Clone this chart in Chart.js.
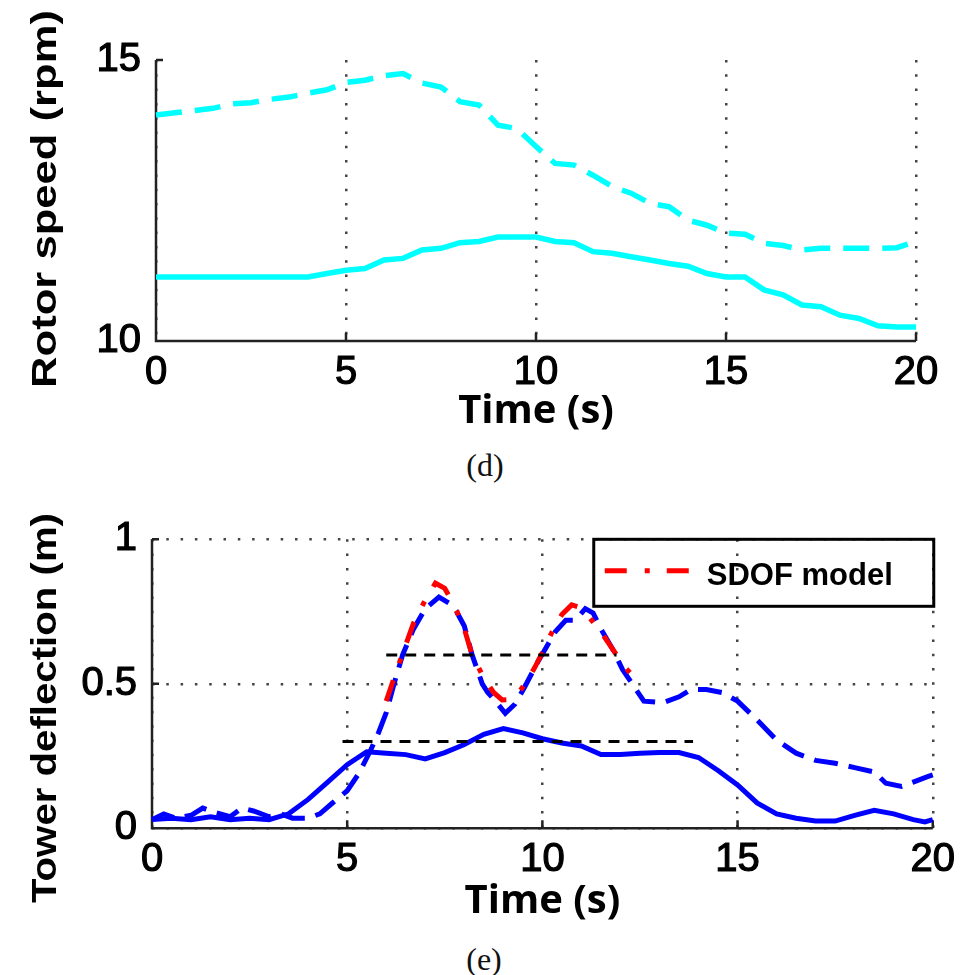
<!DOCTYPE html>
<html>
<head>
<meta charset="utf-8">
<script src="https://cdn.jsdelivr.net/npm/chart.js@4.4.0/dist/chart.umd.min.js"></script>
<style>
  html, body { margin: 0; padding: 0; background: #fff; }
  #page { position: relative; width: 963px; height: 975px; overflow: hidden; background: #fff; }
  .panel { position: absolute; left: 0; width: 963px; height: 440px; }
  .caption { position: absolute; width: 200px; text-align: center; line-height: 32px;
             font-family: "Liberation Serif", "DejaVu Serif", serif; font-size: 32px; color: #111; }
</style>
</head>
<body>
<div id="page">
  <div class="panel" style="top:0px"><canvas id="rotor" width="963" height="440"></canvas></div>
  <div class="caption" style="left:385px; top:449px">(d)</div>
  <div class="panel" style="top:490px"><canvas id="tower" width="963" height="440"></canvas></div>
  <div class="caption" style="left:384px; top:943px">(e)</div>
</div>
<script>
// ---- (d) rotor speed, rpm ----
const rotorTime = [0,0.5,1,1.5,2,2.5,3,3.5,4,4.5,5,5.5,6,6.5,7,7.5,8,8.5,9,9.5,10,
                   10.5,11,11.5,12,12.5,13,13.5,14,14.5,15,15.5,16,16.5,17,17.5,18,18.5,19,19.5,20];
const rotorUpper = [14.02,14.06,14.10,14.14,14.22,14.24,14.30,14.34,14.41,14.47,14.60,
                    14.64,14.72,14.76,14.59,14.52,14.26,14.20,13.84,13.78,13.46,
                    13.16,13.13,12.95,12.75,12.63,12.45,12.39,12.15,12.06,11.92,
                    11.90,11.74,11.70,11.62,11.65,11.65,11.65,11.65,11.66,11.77];
const rotorLower = [11.14,11.14,11.14,11.14,11.14,11.14,11.14,11.14,11.14,11.20,11.26,
                    11.29,11.44,11.47,11.62,11.65,11.75,11.77,11.85,11.85,11.85,
                    11.77,11.75,11.59,11.56,11.50,11.44,11.38,11.33,11.20,11.14,
                    11.14,10.91,10.82,10.64,10.61,10.46,10.40,10.27,10.25,10.25];
const rotorTicksX = [0, 5, 10, 15, 20];
const rotorTicksY = [10, 15];

// ---- (e) tower deflection, m ----
const towerTimeSolid = [0,0.5,1,1.5,2,2.5,3,3.5,4,4.5,5,5.5,6,6.5,7,7.5,8,8.5,9,9.5,10,
                        10.5,11,11.5,12,12.5,13,13.5,14,14.5,15,15.5,16,16.5,17,17.5,18,18.5,19,19.5,19.8,20];
const towerSolid = [0.03,0.035,0.03,0.04,0.03,0.035,0.03,0.05,0.10,0.16,0.22,0.265,0.26,0.255,
                    0.24,0.262,0.29,0.325,0.345,0.33,0.31,0.295,0.285,0.255,0.255,0.26,0.262,
                    0.262,0.245,0.20,0.15,0.088,0.05,0.035,0.025,0.025,0.045,0.062,0.05,0.03,0.022,0.03];
const towerTimeDashed = [0,0.3,0.6,1,1.3,1.6,2,2.3,2.6,3,3.3,3.6,4,4.3,4.6,5,5.3,5.6,5.8,6.0,6.2,
                         6.42,6.7,7.0,7.35,7.6,7.8,8.0,8.2,8.46,8.6,8.8,9.05,9.3,9.55,9.9,10.33,
                         10.6,10.85,11.1,11.3,11.5,11.8,12.05,12.3,12.6,13.1,13.5,13.8,14.2,14.6,
                         15,15.5,16,16.5,17,17.5,18,18.5,18.8,19.2,19.5,19.85,20];
const towerDashed = [0.03,0.05,0.035,0.045,0.07,0.055,0.04,0.07,0.06,0.04,0.05,0.035,0.035,0.05,
                     0.085,0.13,0.19,0.27,0.33,0.40,0.50,0.60,0.69,0.76,0.80,0.78,0.75,0.70,0.60,
                     0.50,0.47,0.44,0.398,0.43,0.49,0.58,0.68,0.72,0.72,0.76,0.745,0.69,0.62,0.55,
                     0.50,0.44,0.435,0.455,0.48,0.48,0.47,0.44,0.375,0.305,0.26,0.235,0.225,0.21,
                     0.195,0.156,0.145,0.16,0.178,0.185];
const sdofTime = [6.0,6.2,6.42,6.7,7.0,7.26,7.5,7.75,8.0,8.2,8.5,8.75,8.97,9.15,9.35,9.6,9.8,
                  9.99,10.25,10.5,10.75,10.95,11.2,11.5,11.7,11.9,12.1,12.3,12.5];
const sdofModel = [0.44,0.52,0.605,0.71,0.79,0.848,0.83,0.77,0.69,0.60,0.52,0.47,0.444,0.445,
                   0.46,0.51,0.555,0.605,0.68,0.74,0.773,0.765,0.73,0.68,0.64,0.60,0.56,0.53,0.505];
const refHighTime = [6.0, 11.9];   const refHigh = [0.6, 0.6];
const refLowTime  = [4.88, 13.86]; const refLow  = [0.3, 0.3];
const towerTicksX = [0, 5, 10, 15, 20];
const towerTicksY = [0, 0.5, 1];

function pairs(xs, ys) { return xs.map((x, i) => ({ x: x, y: ys[i] })); }

const TICK_FONT = { family: '"Liberation Sans", Arial, sans-serif', size: 40 };
const X_TITLE_FONT = { family: '"Open Sans", sans-serif', size: 40, weight: 'bold', lineHeight: 1 };
const GRID_DOTS = [2.5, 11.8];

// solid left/bottom axes with inward tick marks
const axesFrame = {
  id: 'axesFrame',
  beforeDatasetsDraw(chart) {
    const { ctx, chartArea: a, scales: { x, y } } = chart;
    ctx.save();
    ctx.strokeStyle = '#222';
    ctx.lineWidth = 2.5;
    ctx.beginPath();
    ctx.moveTo(a.left, a.top);
    ctx.lineTo(a.left, a.bottom);
    ctx.lineTo(a.right, a.bottom);
    x.ticks.forEach(t => {
      const px = x.getPixelForValue(t.value);
      ctx.moveTo(px, a.bottom); ctx.lineTo(px, a.bottom - 8);
    });
    y.ticks.forEach(t => {
      const py = y.getPixelForValue(t.value);
      ctx.moveTo(a.left, py); ctx.lineTo(a.left + 7, py);
    });
    ctx.stroke();
    ctx.restore();
  }
};

// rotated y-axis title, fitted to a given length
const sideTitle = {
  id: 'sideTitle',
  afterDraw(chart, args, o) {
    if (!o || !o.text) return;
    const ctx = chart.ctx;
    ctx.save();
    ctx.translate(o.x, o.y);
    ctx.rotate(-Math.PI / 2);
    ctx.font = 'bold ' + o.size + 'px "Liberation Sans", Arial, sans-serif';
    const w = ctx.measureText(o.text).width;
    ctx.scale(o.length / w, 1);
    ctx.fillStyle = '#000';
    ctx.textAlign = 'center';
    ctx.textBaseline = 'alphabetic';
    ctx.fillText(o.text, 0, 0);
    ctx.restore();
  }
};

// framed legend in the upper-right corner of the plot
const boxLegend = {
  id: 'boxLegend',
  afterDraw(chart, args, o) {
    if (!o || !o.label) return;
    const ds = chart.data.datasets.find(d => d.label === o.label);
    const { ctx, chartArea: a } = chart;
    const left = a.right - 339, top = a.top, w = 340, h = 67;
    ctx.save();
    ctx.strokeStyle = '#000';
    ctx.lineWidth = 3;
    ctx.strokeRect(left, top, w, h);
    ctx.strokeStyle = ds.borderColor;
    ctx.lineWidth = ds.borderWidth;
    ctx.setLineDash(ds.borderDash);
    ctx.beginPath();
    ctx.moveTo(left + 11, top + 31.5);
    ctx.lineTo(left + 95, top + 31.5);
    ctx.stroke();
    ctx.setLineDash([]);
    ctx.fillStyle = '#000';
    ctx.font = 'bold 31px "Liberation Sans", Arial, sans-serif';
    ctx.textBaseline = 'alphabetic';
    ctx.fillText(ds.label, left + 113, top + 46);
    ctx.restore();
  }
};

function xScale(ticks, bottomGap) {
  return {
    type: 'linear', min: ticks[0], max: ticks[ticks.length - 1],
    afterBuildTicks(s) { s.ticks = ticks.map(v => ({ value: v })); },
    ticks: { font: TICK_FONT, color: '#000', padding: 8, maxRotation: 0, autoSkip: false,
             textStrokeColor: '#000', textStrokeWidth: 1.2, callback: v => String(v) },
    grid: { color: '#444', lineWidth: 2.5, drawTicks: false },
    border: { display: false, dash: GRID_DOTS },
    title: { display: true, text: 'Time (s)', color: '#000', font: X_TITLE_FONT, padding: { top: 0, bottom: 8 } },
    afterFit(s) { s.height = bottomGap; }
  };
}

function yScale(ticks, width, showGrid) {
  return {
    type: 'linear', min: ticks[0], max: ticks[ticks.length - 1],
    afterBuildTicks(s) { s.ticks = ticks.map(v => ({ value: v })); },
    ticks: { font: TICK_FONT, color: '#000', padding: 15, autoSkip: false,
             textStrokeColor: '#000', textStrokeWidth: 1.2, callback: v => String(v) },
    grid: { display: showGrid, color: '#444', lineWidth: 2.5, drawTicks: false },
    border: { display: false, dash: GRID_DOTS },
    afterFit(s) { s.width = width; }
  };
}

const common = {
  responsive: false,
  animation: false,
  events: [],
  devicePixelRatio: 1
};

new Chart(document.getElementById('rotor'), {
  type: 'line',
  data: {
    datasets: [
      { label: 'Rotor speed (dashed)', data: pairs(rotorTime, rotorUpper), borderColor: '#00ffff',
        borderWidth: 5.5, borderDash: [26, 13], pointRadius: 0, tension: 0, clip: 5 },
      { label: 'Rotor speed', data: pairs(rotorTime, rotorLower), borderColor: '#00ffff',
        borderWidth: 5.5, pointRadius: 0, tension: 0, clip: 5 }
    ]
  },
  options: Object.assign({}, common, {
    layout: { padding: { top: 60, right: 47, left: 0, bottom: 0 } },
    scales: { x: xScale(rotorTicksX, 99), y: yScale(rotorTicksY, 156, false) },
    plugins: {
      legend: { display: false }, tooltip: { enabled: false },
      sideTitle: { text: 'Rotor speed (rpm)', x: 56, y: 199, size: 35, length: 378 }
    }
  }),
  plugins: [axesFrame, sideTitle]
});

new Chart(document.getElementById('tower'), {
  type: 'line',
  data: {
    datasets: [
      { label: 'ref 0.6', data: pairs(refHighTime, refHigh), borderColor: '#000', borderWidth: 3,
        borderDash: [11, 8], pointRadius: 0, tension: 0 },
      { label: 'ref 0.3', data: pairs(refLowTime, refLow), borderColor: '#000', borderWidth: 3,
        borderDash: [11, 8], pointRadius: 0, tension: 0 },
      { label: 'SDOF model', data: pairs(sdofTime, sdofModel), borderColor: '#ff0000', borderWidth: 5,
        borderDash: [22, 18, 5, 17], pointRadius: 0, tension: 0 },
      { label: 'Tower deflection (dashed)', data: pairs(towerTimeDashed, towerDashed), borderColor: '#0000ff',
        borderWidth: 5, borderDash: [24, 11], pointRadius: 0, tension: 0, clip: 5 },
      { label: 'Tower deflection', data: pairs(towerTimeSolid, towerSolid), borderColor: '#0000ff',
        borderWidth: 5, pointRadius: 0, tension: 0, clip: 5 }
    ]
  },
  options: Object.assign({}, common, {
    layout: { padding: { top: 49.3, right: 27, left: 0, bottom: 0 } },
    scales: { x: xScale(towerTicksX, 101.7), y: yScale(towerTicksY, 152, true) },
    plugins: {
      legend: { display: false }, tooltip: { enabled: false },
      sideTitle: { text: 'Tower deflection (m)', x: 56, y: 218, size: 35, length: 390 },
      boxLegend: { label: 'SDOF model' }
    }
  }),
  plugins: [axesFrame, sideTitle, boxLegend]
});
</script>
</body>
</html>
